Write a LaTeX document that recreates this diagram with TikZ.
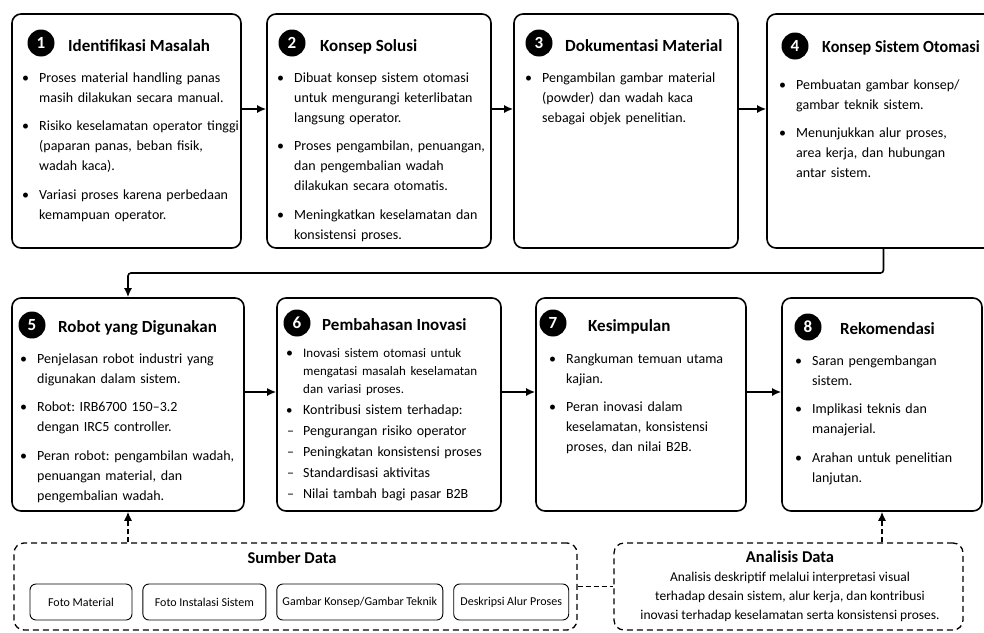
\documentclass[tikz,border=0pt]{standalone}
\usepackage{graphicx}
\usepackage{fontspec}
\setmainfont{Carlito}
\frenchspacing
\usetikzlibrary{positioning,arrows.meta,calc}
\tikzset{
  stage/.style={draw, line width=1.6pt, rounded corners=9pt, minimum height=234pt},
  num/.style={circle, fill=black, text=white, inner sep=0pt, minimum size=27pt, font=\fontsize{17}{17}\selectfont\bfseries},
  ttl/.style={anchor=base west, inner sep=0pt, font=\fontsize{17}{20}\selectfont\bfseries},
  body/.style={anchor=base west, inner sep=0pt, text width=235pt, align=left, font=\fontsize{14}{20}\selectfont, execute at begin node={\setlength{\parskip}{8.5pt}}},
  arr/.style={-{Latex[length=9pt,width=8pt]}, line width=1.6pt},
  src/.style={draw, dash pattern=on 6pt off 4pt, line width=1.3pt, rounded corners=10pt},
  srcarr/.style={-{Latex[length=9pt,width=8pt]}, dash pattern=on 5pt off 3pt, line width=1.3pt},
  link/.style={dash pattern=on 5pt off 3pt, line width=1.3pt},
  chip/.style={draw, line width=0.9pt, rounded corners=6pt, minimum height=36pt, inner sep=0pt, font=\fontsize{12}{13}\selectfont},
}
\newcommand{\itm}[1]{\hangindent=17pt\hangafter=1\noindent\makebox[17pt][l]{\textbullet}#1\par}
\newcommand{\ditm}[1]{\noindent\makebox[17pt][l]{\hspace{1pt}--}#1\par}

\begin{document}
\begin{tikzpicture}[x=1pt, y=-1pt]
\useasboundingbox (0,0) rectangle (984,632);
\clip (0,0) rectangle (984,632);
% stage boxes
\node[stage, minimum width=229pt] (b1) at (126.5,131) {};
\node[stage, minimum width=224pt] (b2) at (379,131) {};
\node[stage, minimum width=224pt] (b3) at (626,131) {};
\node[stage, minimum width=233pt] (b4) at (883.5,131) {};
\node[stage, minimum width=232pt, minimum height=213pt] (b5) at (128,404.5) {};
\node[stage, minimum width=224pt, minimum height=213pt] (b6) at (389,404.5) {};
\node[stage, minimum width=210pt, minimum height=213pt] (b7) at (641,404.5) {};
\node[stage, minimum width=200pt, minimum height=213pt] (b8) at (882,404.5) {};
% headings
\node[num] (n1) at (41,43) {1};
\node[ttl] (t1) at (68,51) {Identifikasi Masalah};
\node[num] (n2) at (292,43) {2};
\node[ttl] (t2) at (320,51) {Konsep Solusi};
\node[num] (n3) at (539,43) {3};
\node[ttl] (t3) at (565,51) {Dokumentasi Material};
\node[num] (n4) at (795,46) {4};
\node[ttl] (t4) at (822,52) {\scalebox{0.95}[1]{Konsep Sistem Otomasi}};
\node[num] (n5) at (32,325) {5};
\node[ttl] (t5) at (58,332) {Robot yang Digunakan};
\node[num] (n6) at (297,323) {6};
\node[ttl] (t6) at (322,330) {Pembahasan Inovasi};
\node[num] (n7) at (553,323) {7};
\node[ttl] (t7) at (588,331) {Kesimpulan};
\node[num] (n8) at (808,327) {8};
\node[ttl] (t8) at (840,334) {Rekomendasi};
% bullet text
\node[body] (l1) at (22,82) {\itm{Proses material handling panas\newline masih dilakukan secara manual.}\itm{Risiko keselamatan operator tinggi\newline (paparan panas, beban fisik,\newline wadah kaca).}\itm{Variasi proses karena perbedaan\newline kemampuan operator.}};
\node[body] (l2) at (277,82) {\itm{Dibuat konsep sistem otomasi\newline untuk mengurangi keterlibatan\newline langsung operator.}\itm{Proses pengambilan, penuangan,\newline dan pengembalian wadah\newline dilakukan secara otomatis.}\itm{Meningkatkan keselamatan dan\newline konsistensi proses.}};
\node[body] (l3) at (525,82) {\itm{Pengambilan gambar material\newline (powder) dan wadah kaca\newline sebagai objek penelitian.}};
\node[body] (l4) at (779,89) {\itm{Pembuatan gambar konsep/\newline gambar teknik sistem.}\itm{Menunjukkan alur proses,\newline area kerja, dan hubungan\newline antar sistem.}};
\node[body] (l5) at (20,363) {\itm{Penjelasan robot industri yang\newline digunakan dalam sistem.}\itm{Robot: IRB6700 150--3.2\newline dengan IRC5 controller.}\itm{Peran robot: pengambilan wadah,\newline penuangan material, dan\newline pengembalian wadah.}};
\node[body, execute at begin node={\setlength{\parskip}{2pt}}] (l6) at (286,357) {\itm{\fontsize{13}{18}\selectfont Inovasi sistem otomasi untuk\newline mengatasi masalah keselamatan\newline dan variasi proses.}\itm{\fontsize{14}{19}\selectfont Kontribusi sistem terhadap:}\ditm{Pengurangan risiko operator}\ditm{Peningkatan konsistensi proses}\ditm{Standardisasi aktivitas}\ditm{Nilai tambah bagi pasar B2B}};
\node[body] (l7) at (549,363) {\itm{Rangkuman temuan utama\newline kajian.}\itm{Peran inovasi dalam\newline keselamatan, konsistensi\newline proses, dan nilai B2B.}};
\node[body] (l8) at (795,365) {\itm{Saran pengembangan\newline sistem.}\itm{Implikasi teknis dan\newline manajerial.}\itm{Arahan untuk penelitian\newline lanjutan.}};
% flow arrows
\coordinate (r1) at (0,109);
\coordinate (r2) at (0,392);
\coordinate (bend) at (0,273);
\foreach \a/\b in {b1/b2,b2/b3,b3/b4} {\draw[arr] (\a.east |- r1) -- (\b.west |- r1);}
\foreach \a/\b in {b5/b6,b6/b7,b7/b8} {\draw[arr] (\a.east |- r2) -- (\b.west |- r2);}
\draw[arr, rounded corners=3pt] (b4.south) |- (bend -| b5.north) -- (b5.north);
% data source and analysis
\node[src, minimum width=563pt, minimum height=87pt] (sd) at (295.5,586.5) {};
\node[src, minimum width=349pt, minimum height=87pt] (ad) at (788.5,586.5) {};
\node[font=\fontsize{16.5}{18}\selectfont\bfseries] (sdt) at (292,558) {Sumber Data};
\node[chip, minimum width=102pt] (c1) at (81,602) {Foto Material};
\node[chip, minimum width=123pt, right=10pt of c1] (c2) {Foto Instalasi Sistem};
\node[chip, minimum width=166pt, right=10pt of c2] (c3) {Gambar Konsep/Gambar Teknik};
\node[chip, minimum width=115pt, right=10pt of c3] (c4) {Deskripsi Alur Proses};
\node[font=\fontsize{16.5}{18}\selectfont\bfseries] (adt) at (790,557) {Analisis Data};
\node[font=\fontsize{13.5}{19}\selectfont, align=center] (adb) at (790,597) {Analisis deskriptif melalui interpretasi visual\\ terhadap desain sistem, alur kerja, dan kontribusi\\ inovasi terhadap keselamatan serta konsistensi proses.};
\draw[srcarr] (sd.north -| b5.south) -- (b5.south);
\draw[srcarr] (ad.north -| b8.south) -- (b8.south);
\draw[link] (sd.east) -- (ad.west);
\end{tikzpicture}
\end{document}
